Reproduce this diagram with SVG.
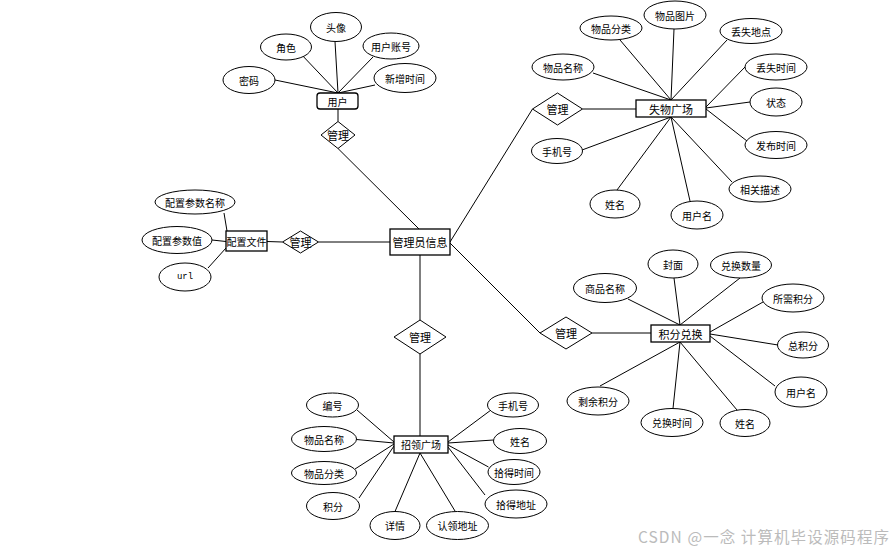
<svg xmlns="http://www.w3.org/2000/svg" width="895" height="551" viewBox="0 0 895 551">
<style>
  .bg { fill: #ffffff; }
  .ln { stroke: #000; stroke-width: 1; fill: none; }
  .ent { fill: #fff; stroke: #000; stroke-width: 1.3; }
  .rel { fill: #fff; stroke: #000; stroke-width: 1; }
  .att { fill: #fff; stroke: #000; stroke-width: 1; }
  text { font-family: "Noto Sans CJK SC", "Noto Sans", sans-serif; font-size: 10px; fill: #000; text-anchor: middle; dominant-baseline: central; }
  .big { font-size: 11px; }
  .mono { font-family: "Liberation Mono", monospace; font-size: 9px; }
  .wm { font-size: 15.5px; fill: #bbbbbb; text-anchor: start; dominant-baseline: auto; }
</style>
<rect class="bg" x="0" y="0" width="895" height="551"/>
<g id="connectors" class="ln">
  <!-- user -->
  <line x1="275" y1="80" x2="338" y2="93"/>
  <line x1="300" y1="53" x2="338" y2="93"/>
  <line x1="335" y1="41.5" x2="338" y2="93"/>
  <line x1="373" y1="57" x2="338" y2="93"/>
  <line x1="375" y1="85" x2="338" y2="93"/>
  <line x1="338" y1="109" x2="338" y2="121.5"/>
  <line x1="338" y1="148.5" x2="419" y2="229"/>
  <!-- lost -->
  <line x1="593" y1="73" x2="671" y2="100"/>
  <line x1="620" y1="40" x2="671" y2="100"/>
  <line x1="674" y1="29" x2="671" y2="100"/>
  <line x1="727" y1="40" x2="671" y2="100"/>
  <line x1="745" y1="67" x2="706" y2="107"/>
  <line x1="750" y1="102" x2="706" y2="108"/>
  <line x1="747" y1="141" x2="706" y2="109"/>
  <line x1="582" y1="150" x2="671" y2="117"/>
  <line x1="617" y1="190" x2="671" y2="117"/>
  <line x1="690" y1="201" x2="671" y2="117"/>
  <line x1="732" y1="182" x2="671" y2="117"/>
  <line x1="582.5" y1="109" x2="636" y2="109"/>
  <line x1="450" y1="242" x2="532.5" y2="109"/>
  <!-- config -->
  <line x1="224" y1="213" x2="227" y2="231"/>
  <line x1="212" y1="240" x2="226" y2="241.5"/>
  <line x1="208" y1="268" x2="226" y2="248"/>
  <line x1="267" y1="241.5" x2="282.5" y2="242"/>
  <line x1="318.5" y1="242" x2="390" y2="242"/>
  <!-- points -->
  <line x1="628" y1="299" x2="680" y2="325"/>
  <line x1="674" y1="278" x2="680" y2="325"/>
  <line x1="740" y1="278" x2="680" y2="325"/>
  <line x1="763" y1="302" x2="710" y2="332"/>
  <line x1="778" y1="345" x2="710" y2="334"/>
  <line x1="775" y1="386" x2="710" y2="336"/>
  <line x1="600" y1="386" x2="680" y2="342"/>
  <line x1="673" y1="408.5" x2="680" y2="342"/>
  <line x1="737" y1="410" x2="680" y2="342"/>
  <line x1="592" y1="333" x2="651" y2="333"/>
  <line x1="450" y1="243" x2="540" y2="333"/>
  <!-- found -->
  <line x1="420" y1="255" x2="420" y2="320"/>
  <line x1="420" y1="354" x2="420" y2="436"/>
  <line x1="357" y1="410" x2="394" y2="442"/>
  <line x1="356.5" y1="439.5" x2="394" y2="443"/>
  <line x1="355" y1="469" x2="394" y2="444"/>
  <line x1="359" y1="498" x2="394" y2="446"/>
  <line x1="491" y1="410" x2="448" y2="442"/>
  <line x1="493.5" y1="440" x2="448" y2="443"/>
  <line x1="488.5" y1="467" x2="448" y2="445"/>
  <line x1="485" y1="495" x2="448" y2="447"/>
  <line x1="395" y1="511.5" x2="420" y2="453"/>
  <line x1="455" y1="511" x2="420" y2="453"/>
</g>

<!-- entities -->
<g id="e_admin"><rect class="ent" x="390" y="229" width="60" height="26"/><text class="big" x="420" y="242">管理员信息</text></g>
<g id="e_user"><rect class="ent" x="317" y="93" width="41" height="16" rx="3"/><text x="337.5" y="101">用户</text></g>
<g id="e_lost"><rect class="ent" x="636" y="100" width="70" height="17"/><text class="big" x="671" y="108.5">失物广场</text></g>
<g id="e_config"><rect class="ent" x="226" y="231" width="41" height="20"/><text x="246.5" y="241">配置文件</text></g>
<g id="e_points"><rect class="ent" x="651" y="325" width="59" height="17"/><text class="big" x="680.5" y="333.5">积分兑换</text></g>
<g id="e_found"><rect class="ent" x="394" y="436" width="54" height="17"/><text x="421" y="444.5">招领广场</text></g>

<!-- relationships -->
<g id="r_user"><polygon class="rel" points="338,121.5 355,135 338,148.5 321,135"/><text class="big" x="338" y="135">管理</text></g>
<g id="r_lost"><polygon class="rel" points="557.5,93 582.5,109 557.5,125 532.5,109"/><text class="big" x="557.5" y="109">管理</text></g>
<g id="r_config"><polygon class="rel" points="300.5,231 318.5,242 300.5,253 282.5,242"/><text class="big" x="300.5" y="242">管理</text></g>
<g id="r_points"><polygon class="rel" points="566,317 592,333 566,349 540,333"/><text class="big" x="566" y="333">管理</text></g>
<g id="r_found"><polygon class="rel" points="420,320 446,337 420,354 394,337"/><text class="big" x="420" y="337">管理</text></g>

<!-- user attributes -->
<g id="a_user_pwd"><ellipse class="att" cx="249" cy="80" rx="26" ry="13.5"/><text x="249" y="80">密码</text></g>
<g id="a_user_role"><ellipse class="att" cx="286" cy="47" rx="25.5" ry="13"/><text x="286" y="47">角色</text></g>
<g id="a_user_avatar"><ellipse class="att" cx="336" cy="27" rx="25.5" ry="14.5"/><text x="336" y="27">头像</text></g>
<g id="a_user_acct"><ellipse class="att" cx="391" cy="46" rx="28" ry="13"/><text x="391" y="46">用户账号</text></g>
<g id="a_user_time"><ellipse class="att" cx="405" cy="78" rx="31" ry="14.5"/><text x="405" y="78">新增时间</text></g>

<!-- lost attributes -->
<g id="a_lost_name"><ellipse class="att" cx="563" cy="67" rx="31" ry="13"/><text x="563" y="67">物品名称</text></g>
<g id="a_lost_cat"><ellipse class="att" cx="611" cy="28" rx="31" ry="12"/><text x="611" y="28">物品分类</text></g>
<g id="a_lost_pic"><ellipse class="att" cx="675" cy="15" rx="31" ry="14"/><text x="675" y="15">物品图片</text></g>
<g id="a_lost_place"><ellipse class="att" cx="751" cy="31" rx="31" ry="12.5"/><text x="751" y="31">丢失地点</text></g>
<g id="a_lost_time"><ellipse class="att" cx="776" cy="67" rx="31" ry="13"/><text x="776" y="67">丢失时间</text></g>
<g id="a_lost_state"><ellipse class="att" cx="776" cy="102" rx="26" ry="14"/><text x="776" y="102">状态</text></g>
<g id="a_lost_pub"><ellipse class="att" cx="776" cy="145" rx="31" ry="13.5"/><text x="776" y="145">发布时间</text></g>
<g id="a_lost_desc"><ellipse class="att" cx="760" cy="189" rx="31" ry="13"/><text x="760" y="189">相关描述</text></g>
<g id="a_lost_uname"><ellipse class="att" cx="697" cy="215" rx="26" ry="14"/><text x="697" y="215">用户名</text></g>
<g id="a_lost_realname"><ellipse class="att" cx="615" cy="204" rx="25" ry="14"/><text x="615" y="204">姓名</text></g>
<g id="a_lost_phone"><ellipse class="att" cx="557" cy="151" rx="25.5" ry="12.5"/><text x="557" y="151">手机号</text></g>

<!-- config attributes -->
<g id="a_cfg_name"><ellipse class="att" cx="195" cy="202" rx="40" ry="12"/><text x="195" y="202">配置参数名称</text></g>
<g id="a_cfg_val"><ellipse class="att" cx="177" cy="240" rx="35" ry="13.5"/><text x="177" y="240">配置参数值</text></g>
<g id="a_cfg_url"><ellipse class="att" cx="185" cy="277" rx="26" ry="14"/><text class="mono" x="185" y="277">url</text></g>

<!-- points attributes -->
<g id="a_pt_goods"><ellipse class="att" cx="605" cy="288" rx="31.5" ry="14.5"/><text x="605" y="288">商品名称</text></g>
<g id="a_pt_cover"><ellipse class="att" cx="673" cy="264" rx="25" ry="14"/><text x="673" y="264">封面</text></g>
<g id="a_pt_qty"><ellipse class="att" cx="741" cy="265" rx="30.5" ry="13"/><text x="741" y="265">兑换数量</text></g>
<g id="a_pt_need"><ellipse class="att" cx="793" cy="298" rx="31" ry="14"/><text x="793" y="298">所需积分</text></g>
<g id="a_pt_total"><ellipse class="att" cx="803" cy="345" rx="25.5" ry="13"/><text x="803" y="345">总积分</text></g>
<g id="a_pt_uname"><ellipse class="att" cx="801" cy="392" rx="26" ry="15"/><text x="801" y="392">用户名</text></g>
<g id="a_pt_name"><ellipse class="att" cx="745" cy="423" rx="25" ry="13.5"/><text x="745" y="423">姓名</text></g>
<g id="a_pt_time"><ellipse class="att" cx="672" cy="422.5" rx="31" ry="14"/><text x="672" y="422.5">兑换时间</text></g>
<g id="a_pt_left"><ellipse class="att" cx="598" cy="401" rx="31" ry="14"/><text x="598" y="401">剩余积分</text></g>

<!-- found attributes -->
<g id="a_fd_no"><ellipse class="att" cx="332.5" cy="405" rx="26" ry="12"/><text x="332.5" y="405">编号</text></g>
<g id="a_fd_name"><ellipse class="att" cx="324" cy="439" rx="32.5" ry="12.5"/><text x="324" y="439">物品名称</text></g>
<g id="a_fd_cat"><ellipse class="att" cx="324" cy="473" rx="32.5" ry="11.5"/><text x="324" y="473">物品分类</text></g>
<g id="a_fd_pts"><ellipse class="att" cx="333" cy="506" rx="26.5" ry="13.5"/><text x="333" y="506">积分</text></g>
<g id="a_fd_detail"><ellipse class="att" cx="395" cy="525.5" rx="25" ry="14"/><text x="395" y="525.5">详情</text></g>
<g id="a_fd_addr"><ellipse class="att" cx="457.5" cy="525.5" rx="31" ry="14"/><text x="457.5" y="525.5">认领地址</text></g>
<g id="a_fd_phone"><ellipse class="att" cx="513" cy="405" rx="25.5" ry="12"/><text x="513" y="405">手机号</text></g>
<g id="a_fd_realname"><ellipse class="att" cx="520" cy="441" rx="26.5" ry="12.5"/><text x="520" y="441">姓名</text></g>
<g id="a_fd_time"><ellipse class="att" cx="514" cy="472" rx="26" ry="12.5"/><text x="514" y="472">拾得时间</text></g>
<g id="a_fd_place"><ellipse class="att" cx="516" cy="504" rx="31" ry="14"/><text x="516" y="504">拾得地址</text></g>

<text class="wm" x="638" y="543" textLength="251" lengthAdjust="spacing">CSDN @一念 计算机毕设源码程序</text>
</svg>
